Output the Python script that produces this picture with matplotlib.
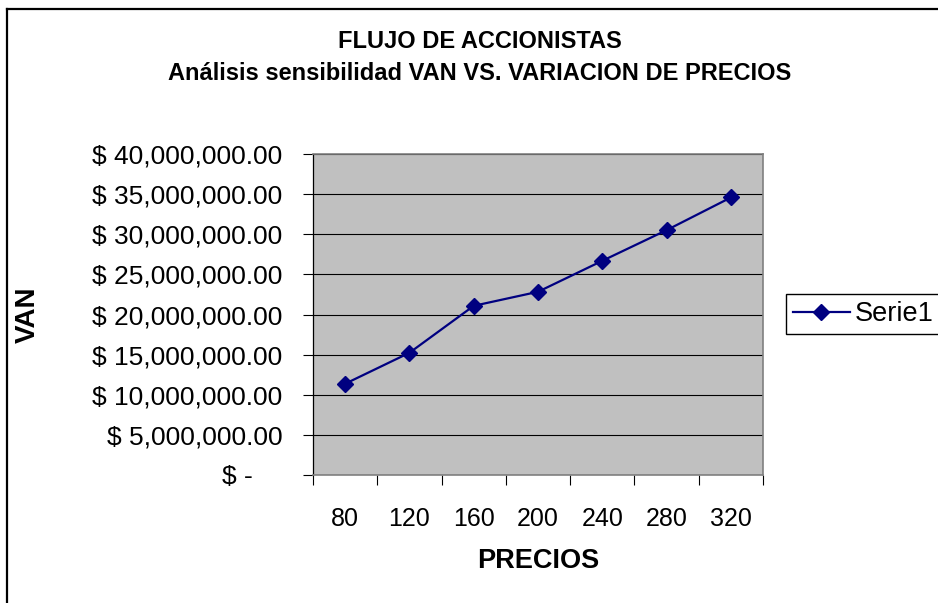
import matplotlib.pyplot as plt
from matplotlib.lines import Line2D
from matplotlib.ticker import FuncFormatter, MultipleLocator, FixedLocator

# Sensitivity of VAN to the price level
precios = [80, 120, 160, 200, 240, 280, 320]
van = [11370000, 15230000, 21080000, 22830000, 26690000, 30510000, 34580000]
serie_nombre = "Serie1"

plt.rcParams['font.family'] = ['Liberation Sans', 'DejaVu Sans']

W, H = 938, 603
fig = plt.figure(figsize=(W / 100, H / 100), dpi=100)

# plot area in pixel coordinates
x0, x1, y0, y1 = 313, 763, 154, 475
ax = fig.add_axes([x0 / W, 1 - y1 / H, (x1 - x0) / W, (y1 - y0) / H])
ax.set_facecolor('#C0C0C0')

pos = list(range(len(precios)))
ax.plot(pos, van, color='#000080', linewidth=1.6, marker='D', markersize=8.5,
        markerfacecolor='#000080', markeredgecolor='#000080', label=serie_nombre)

ax.set_xlim(-0.5, len(precios) - 0.5)
ax.set_ylim(0, 40000000)


def formato_pesos(v, p):
    # accounting style: zero shown as a dash under the units column
    if v == 0:
        return "$ -    "
    return "$ {:,.2f}".format(v)


ax.yaxis.set_major_locator(MultipleLocator(5000000))
ax.yaxis.set_major_formatter(FuncFormatter(formato_pesos))
ax.grid(axis='y', color='black', linewidth=0.8)
ax.set_axisbelow(True)

ax.xaxis.set_major_locator(FixedLocator(pos))
ax.set_xticklabels([str(p) for p in precios])
ax.xaxis.set_minor_locator(FixedLocator([p - 0.5 for p in pos] + [pos[-1] + 0.5]))
ax.tick_params(axis='x', which='major', length=0, pad=23, labelsize=18)
ax.tick_params(axis='x', which='minor', length=7, width=0.8, color='black')
ax.tick_params(axis='y', length=7, width=0.8, color='black', pad=15, labelsize=19)

for side in ['top', 'right', 'bottom']:
    ax.spines[side].set_color('#808080')
    ax.spines[side].set_linewidth(1.2)
ax.spines['left'].set_color('black')
ax.spines['left'].set_linewidth(0.9)

# titles and axis labels
fig.text(480 / W, 1 - 42 / H, "FLUJO DE ACCIONISTAS", ha='center', va='center',
         fontsize=17, fontweight='bold')
fig.text(480 / W, 1 - 74 / H, "Análisis sensibilidad VAN VS. VARIACION DE PRECIOS",
         ha='center', va='center', fontsize=17, fontweight='bold')
fig.text(538 / W, 1 - 561 / H, "PRECIOS", ha='center', va='center',
         fontsize=19.5, fontweight='bold')
fig.text(28 / W, 1 - 315 / H, "VAN", ha='center', va='center', rotation=90,
         fontsize=20, fontweight='bold')

leg = fig.legend(loc='center left', bbox_to_anchor=(786 / W, 1 - 314 / H),
                 fontsize=19.5, fancybox=False, edgecolor='black', framealpha=1,
                 handlelength=2.1, borderpad=0.25, handletextpad=0.2,
                 borderaxespad=0)
leg.get_frame().set_linewidth(1.0)

# chart border (top and left edges)
fig.add_artist(Line2D([7 / W, 7 / W], [0, 1 - 9 / H], color='black', linewidth=1.6))
fig.add_artist(Line2D([7 / W, 1], [1 - 9 / H, 1 - 9 / H], color='black', linewidth=1.6))

fig.savefig('out.png', dpi=100)
